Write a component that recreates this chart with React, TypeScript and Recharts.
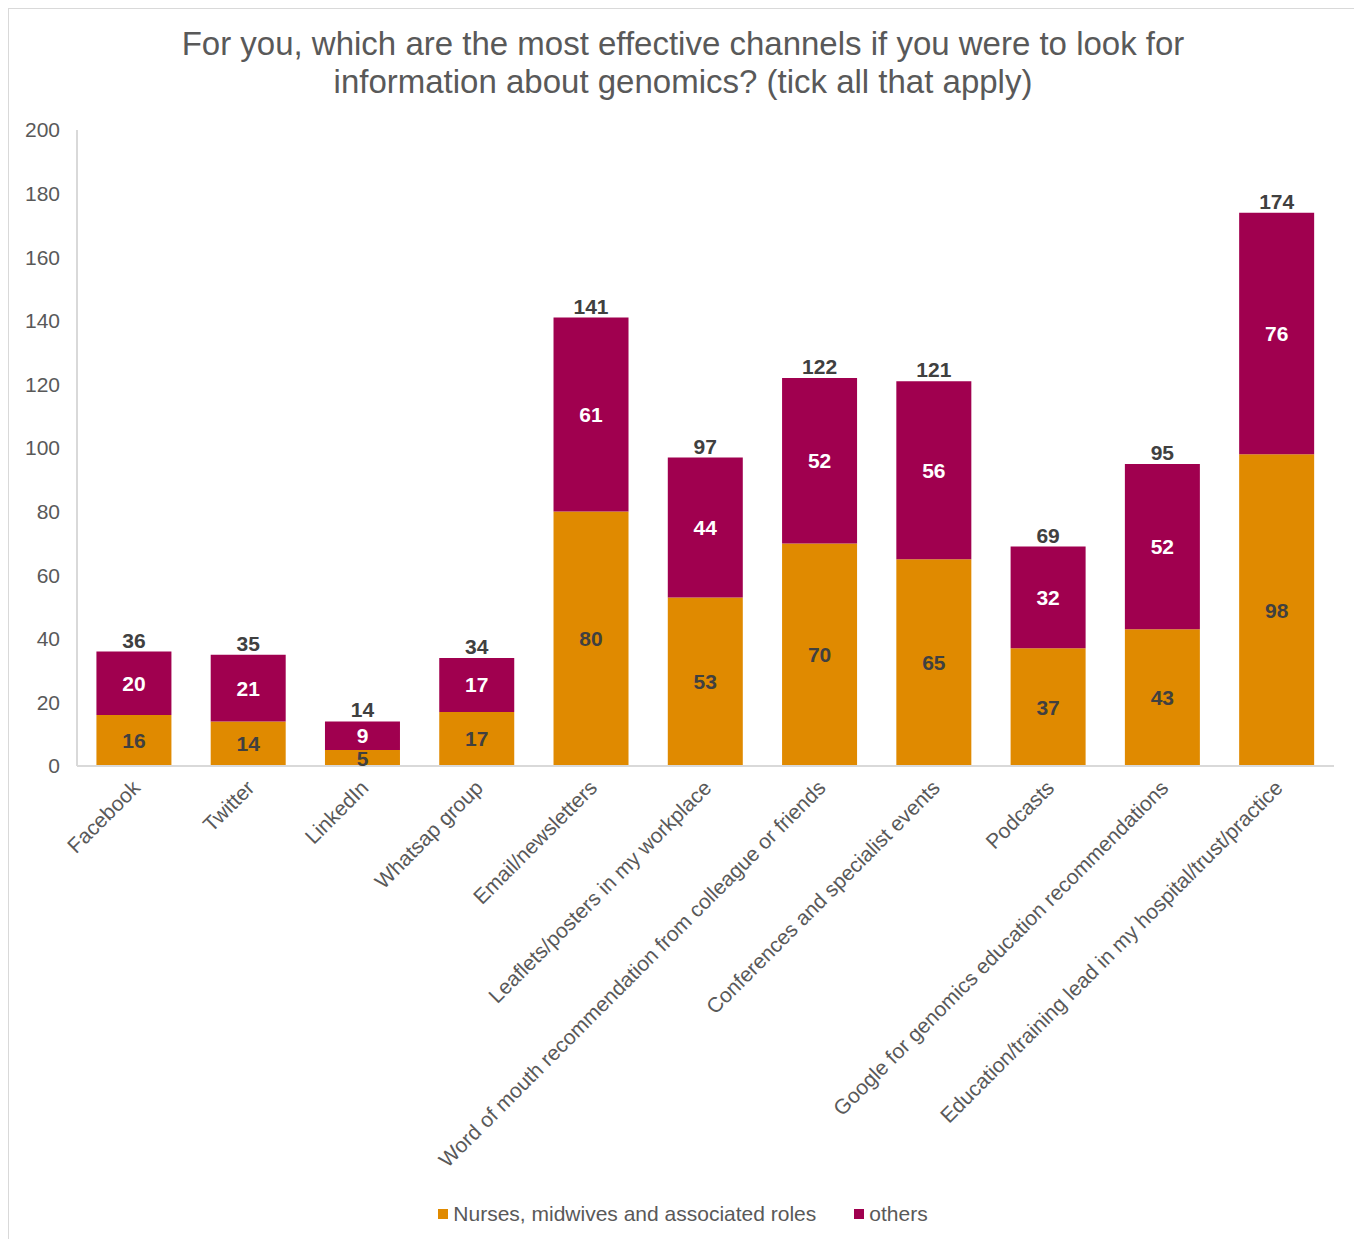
import React from "react";
import { Bar, BarChart, LabelList, XAxis, YAxis } from "recharts";

const categories = [
  "Facebook",
  "Twitter",
  "LinkedIn",
  "Whatsap group",
  "Email/newsletters",
  "Leaflets/posters in my workplace",
  "Word of mouth recommendation from colleague or friends",
  "Conferences and specialist events",
  "Podcasts",
  "Google for genomics education recommendations",
  "Education/training lead in my hospital/trust/practice",
];
const nurses = [16, 14, 5, 17, 80, 53, 70, 65, 37, 43, 98];
const others = [20, 21, 9, 17, 61, 44, 52, 56, 32, 52, 76];
const yTicks = [0, 20, 40, 60, 80, 100, 120, 140, 160, 180, 200];

const ORANGE = "#E08A00";
const MAROON = "#A0004F";
const GREY = "#595959";
const FONT = "'Liberation Sans', Arial, sans-serif";

const data = categories.map((name, i) => ({
  name,
  nurses: nurses[i],
  others: others[i],
  total: nurses[i] + others[i],
}));

function RotatedTick(props: any) {
  const { x, y, payload } = props;
  return (
    <g transform={`translate(${x - 2},${y + 6}) rotate(-45)`}>
      <text textAnchor="end" dy={13} fill={GREY} fontSize={21} fontFamily={FONT}>
        {payload.value}
      </text>
    </g>
  );
}

function LegendBox() {
  const item = (color: string, label: string, gap: number) => (
    <span style={{ display: "inline-flex", alignItems: "center", marginRight: gap }}>
      <span style={{ width: 10, height: 10, background: color, display: "inline-block", marginRight: 5 }} />
      {label}
    </span>
  );
  return (
    <div
      style={{
        position: "absolute",
        top: 1190,
        left: 0,
        width: 1348,
        textAlign: "center",
        fontFamily: FONT,
        fontSize: 21,
        lineHeight: "26px",
        color: GREY,
      }}
    >
      {item(ORANGE, "Nurses, midwives and associated roles", 38)}
      {item(MAROON, "others", 0)}
    </div>
  );
}

const labelStyle = { fontSize: 21, fontWeight: "bold", fontFamily: FONT };

export default function App() {
  return (
    <div
      style={{
        position: "relative",
        width: 1350,
        height: 1240,
        border: "1px solid #d9d9d9",
        boxSizing: "border-box",
        background: "#fff",
        fontFamily: FONT,
      }}
    >
      <div
        style={{
          position: "absolute",
          top: 16,
          left: 0,
          width: 1348,
          textAlign: "center",
          fontSize: 33,
          lineHeight: "38px",
          color: GREY,
        }}
      >
        For you, which are the most effective channels if you were to look for
        <br />
        information about genomics? (tick all that apply)
      </div>
      <BarChart
        width={1348}
        height={1238}
        data={data}
        margin={{ top: 121, right: 23, left: 0, bottom: 0 }}
        barCategoryGap="17%"
      >
        <YAxis
          domain={[0, 200]}
          ticks={yTicks}
          interval={0}
          width={68}
          tickLine={false}
          axisLine={{ stroke: "#d9d9d9", strokeWidth: 2 }}
          tick={{ fill: GREY, fontSize: 21, fontFamily: FONT }}
          tickMargin={11}
        />
        <XAxis
          dataKey="name"
          interval={0}
          height={481}
          tickLine={false}
          axisLine={{ stroke: "#d9d9d9", strokeWidth: 2 }}
          tick={<RotatedTick />}
        />
        <Bar dataKey="nurses" stackId="a" fill={ORANGE} isAnimationActive={false}>
          <LabelList dataKey="nurses" position="center" fill="#404040" {...labelStyle} />
        </Bar>
        <Bar dataKey="others" stackId="a" fill={MAROON} isAnimationActive={false}>
          <LabelList dataKey="others" position="center" fill="#ffffff" {...labelStyle} />
          <LabelList dataKey="total" position="top" offset={4} fill="#404040" {...labelStyle} />
        </Bar>
      </BarChart>
      <LegendBox />
    </div>
  );
}
